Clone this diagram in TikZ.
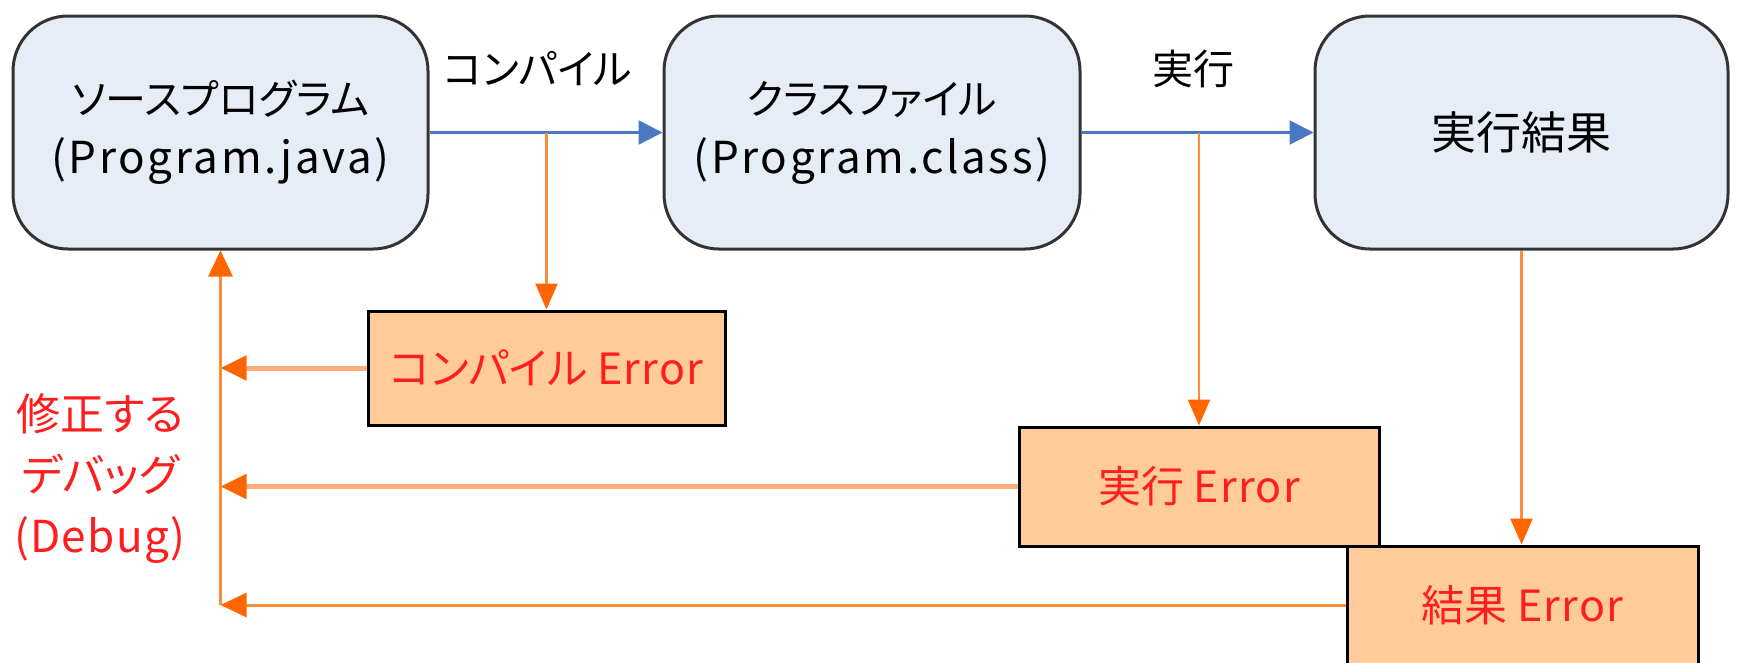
\documentclass[tikz,border=0pt]{standalone}
\usepackage{fontspec}
\setmainfont{Noto Sans CJK JP}[RawFeature={+palt}]
\newfontfamily\latsp{Noto Sans CJK JP}[LetterSpace=6]
\newfontfamily\latsq{Noto Sans CJK JP}[LetterSpace=3]
\usetikzlibrary{arrows.meta}
\definecolor{boxfill}{HTML}{E6EDF7}
\definecolor{boxline}{HTML}{333333}
\definecolor{errfill}{HTML}{FFCC99}
\definecolor{flowblue}{HTML}{4A78C4}
\definecolor{tipor}{HTML}{FF6600}
\definecolor{lineor}{HTML}{FF8C3C}
\definecolor{lightor}{HTML}{FFAE7A}
\definecolor{errred}{HTML}{FF1E1E}
\tikzset{
  stagebox/.style={draw=boxline, line width=3pt, fill=boxfill, rounded corners=55pt,
    minimum height=233pt, align=center, font=\fontsize{41}{59}\selectfont, inner sep=0pt},
  errbox/.style={draw=black, line width=3pt, fill=errfill, inner sep=0pt,
    font=\fontsize{43}{50}\selectfont, text=errred},
  flow/.style={draw=flowblue, line width=2.5pt, -{Triangle[length=24pt,width=24pt,color=flowblue]}},
  errflow/.style={draw=lineor, line width=2.5pt, -{Triangle[length=26pt,width=22pt,color=tipor]}},
  backflow/.style={draw=lightor, line width=5pt, -{Triangle[length=26pt,width=24pt,color=tipor]}},
  backflowb/.style={draw=lineor, line width=3pt, -{Triangle[length=26pt,width=24pt,color=tipor]}},
  lbl/.style={font=\fontsize{41}{48}\selectfont, text=black},
}
\begin{document}
\begin{tikzpicture}[x=1pt,y=-1pt]
\clip (0,0) rectangle (1740,662);
\fill[white] (0,0) rectangle (1740,662);
% stage boxes
\node[stagebox, minimum width=415pt] (src) at (220.5,132.5) {ソースプログラム\\{\fontsize{44}{59}\selectfont\latsp (Program.java)}};
\node[stagebox, minimum width=416pt] (cls) at (872,132.5) {クラスファイル\\{\fontsize{44}{59}\selectfont\latsp (Program.class)}};
\node[stagebox, minimum width=413pt, font=\fontsize{45}{52}\selectfont] (res) at (1521.5,132.5) {実行結果};
% error boxes
\node[errbox, minimum width=357pt, minimum height=114pt] (cerr) at (546.5,368) {コンパイル {\latsq Error}};
\node[errbox, minimum width=360pt, minimum height=119pt] (rerr) at (1199,486.5) {実行 {\latsq Error}};
\node[errbox, minimum width=351pt, minimum height=118pt] (kerr) at (1522.5,605) {結果 {\latsq Error}};
% labels
\node[lbl] (lc) at (538,69) {コンパイル};
\node[lbl] (lr) at (1193,69) {実行};
\node[font=\fontsize{44}{61}\selectfont, text=errred, align=center] (dbg) at (100,478) {修正する\\デバッグ\\{\latsq (Debug)}};
% junctions
\coordinate (j1) at (cerr.north |- src.east);
\coordinate (j2) at (rerr.north |- cls.east);
\coordinate (fb) at (kerr.west -| src.south);
% forward flow
\draw[flow] (src.east) -- (cls.west);
\draw[flow] (cls.east) -- (res.west);
% error flows
\draw[errflow] (j1) -- (cerr.north);
\draw[errflow] (j2) -- (rerr.north);
\draw[errflow] (res.south) -- (res.south |- kerr.north);
% feedback
\draw[backflow] (cerr.west) -- (cerr.west -| src.south);
\draw[backflow] (rerr.west) -- (rerr.west -| src.south);
\draw[backflowb] (kerr.west) -- (fb);
\draw[backflowb] (fb) -- (src.south);
\end{tikzpicture}
\end{document}
